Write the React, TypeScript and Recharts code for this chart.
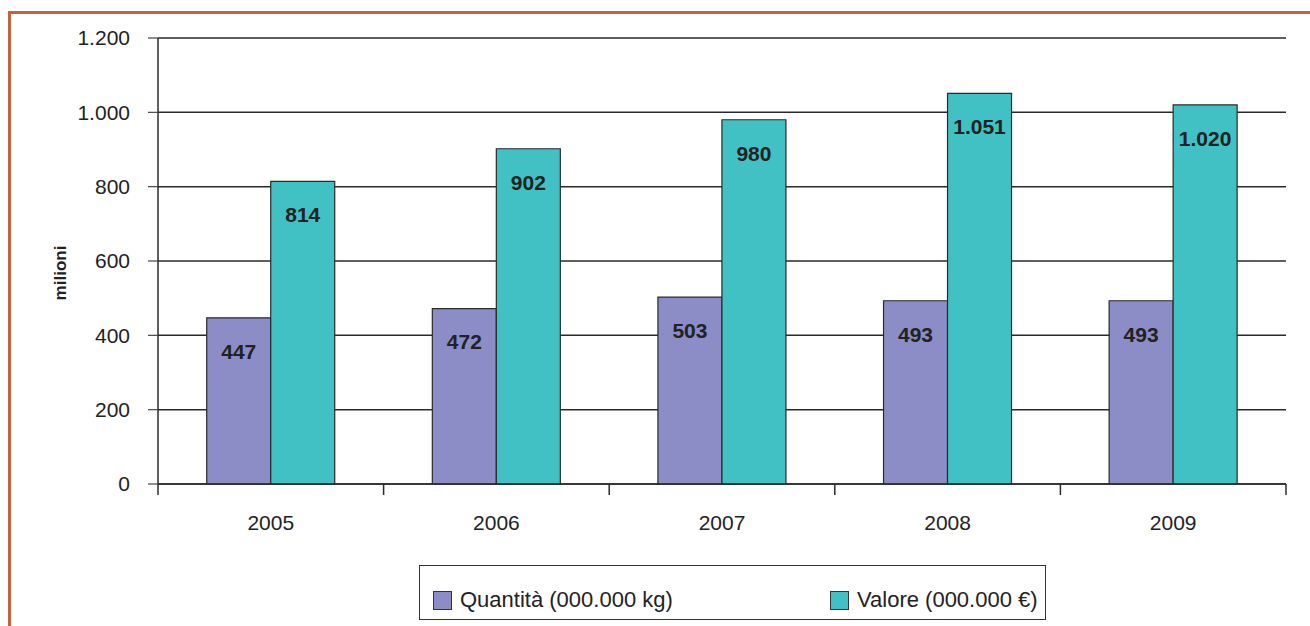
import React from 'react';
import { BarChart, Bar, XAxis, YAxis, CartesianGrid, LabelList, Legend } from 'recharts';

const years = ['2005', '2006', '2007', '2008', '2009'];
const quantita = [447, 472, 503, 493, 493];
const valore = [814, 902, 980, 1051, 1020];
const yTicks = [0, 200, 400, 600, 800, 1000, 1200];

const seriesNames = { q: 'Quantità (000.000 kg)', v: 'Valore (000.000 €)' };
const colors = { q: '#8c8cc6', v: '#41c1c3', stroke: '#2a2a2a', frame: '#c5623f' };

const data = years.map((y, i) => ({ year: y, q: quantita[i], v: valore[i] }));

const FONT = 'Arial, "Liberation Sans", Helvetica, sans-serif';

const fmtNum = (n: number) => {
  const s = String(Math.round(n));
  return s.replace(/\B(?=(\d{3})+(?!\d))/g, '.');
};

const XTick = (props: any) => {
  const { x, y, payload, index } = props;
  const off = payload.offset || 0;
  return (
    <g>
      <line x1={x - off} x2={x - off} y1={y} y2={y + 11} stroke={colors.stroke} strokeWidth={1.5} />
      {index === years.length - 1 && (
        <line x1={x + off} x2={x + off} y1={y} y2={y + 11} stroke={colors.stroke} strokeWidth={1.5} />
      )}
      <text x={x} y={y + 46} textAnchor="middle" fontSize={21} fill="#222" fontFamily={FONT}>
        {payload.value}
      </text>
    </g>
  );
};

const YLabel = (props: any) => {
  const vb = props.viewBox || {};
  const cx = 60;
  const cy = vb.y + vb.height / 2 + 12;
  return (
    <text
      x={cx}
      y={cy}
      transform={`rotate(-90, ${cx}, ${cy})`}
      textAnchor="middle"
      dominantBaseline="central"
      fontSize={17}
      fontWeight="bold"
      fill="#222"
      fontFamily={FONT}
    >
      milioni
    </text>
  );
};

const LegendContent = () => (
  <div
    style={{
      width: 627,
      height: 55,
      border: '1.5px solid #333',
      boxSizing: 'border-box',
      background: '#fff',
      position: 'relative',
      fontFamily: FONT,
      fontSize: 22,
      color: '#222',
    }}
  >
    {([
      ['q', 13],
      ['v', 410],
    ] as [keyof typeof seriesNames, number][]).map(([k, left]) => (
      <div key={k} style={{ position: 'absolute', left, top: 22, display: 'flex', alignItems: 'center' }}>
        <div
          style={{
            width: 19,
            height: 19,
            background: colors[k],
            border: '1.2px solid #333',
            boxSizing: 'border-box',
            marginRight: 8,
          }}
        />
        <span style={{ lineHeight: '24px' }}>{seriesNames[k]}</span>
      </div>
    ))}
  </div>
);

export default function App() {
  return (
    <div style={{ position: 'fixed', left: 0, top: 0, width: 1310, height: 626, background: '#fff', overflow: 'hidden' }}>
      <div
        style={{
          position: 'absolute',
          left: 8,
          top: 11,
          width: 1320,
          height: 640,
          borderLeft: `3px solid ${colors.frame}`,
          borderTop: `3px solid ${colors.frame}`,
        }}
      />
      <div style={{ position: 'absolute', left: 0, top: 0 }}>
        <BarChart
          width={1310}
          height={626}
          data={data}
          margin={{ top: 38, right: 24, bottom: 112, left: 98 }}
          barCategoryGap="21.6%"
          barGap={0}
        >
          <CartesianGrid vertical={false} stroke="#2a2a2a" strokeWidth={1.5} />
          <XAxis
            dataKey="year"
            tickLine={false}
            tickSize={0}
            tickMargin={0}
            axisLine={{ stroke: colors.stroke, strokeWidth: 1.5 }}
            tick={<XTick />}
            height={30}
            interval={0}
          />
          <YAxis
            domain={[0, 1200]}
            ticks={yTicks}
            width={60}
            tickSize={10}
            tickMargin={18}
            tickFormatter={fmtNum}
            axisLine={{ stroke: colors.stroke, strokeWidth: 1.5 }}
            tickLine={{ stroke: '#444', strokeWidth: 1.2 }}
            tick={{ fontSize: 21, fill: '#222', fontFamily: FONT }}
            label={<YLabel />}
          />
          <YAxis
            yAxisId="right"
            orientation="right"
            domain={[0, 1200]}
            width={0}
            tick={false}
            tickLine={false}
            axisLine={{ stroke: '#555', strokeWidth: 1.2 }}
          />
          <Legend
            layout="horizontal"
            verticalAlign="middle"
            align="center"
            content={<LegendContent />}
            wrapperStyle={{ position: 'absolute', left: 419, top: 565, width: 627, height: 55 }}
          />
          <Bar dataKey="q" name={seriesNames.q} fill={colors.q} stroke={colors.stroke} strokeWidth={1.2} isAnimationActive={false}>
            <LabelList
              dataKey="q"
              position="insideTop"
              offset={26}
              formatter={(v: any) => fmtNum(Number(v))}
              style={{ fontSize: 21, fontWeight: 'bold', fill: '#222', fontFamily: FONT }}
            />
          </Bar>
          <Bar dataKey="v" name={seriesNames.v} fill={colors.v} stroke={colors.stroke} strokeWidth={1.2} isAnimationActive={false}>
            <LabelList
              dataKey="v"
              position="insideTop"
              offset={26}
              formatter={(v: any) => fmtNum(Number(v))}
              style={{ fontSize: 21, fontWeight: 'bold', fill: '#222', fontFamily: FONT }}
            />
          </Bar>
        </BarChart>
      </div>
    </div>
  );
}
